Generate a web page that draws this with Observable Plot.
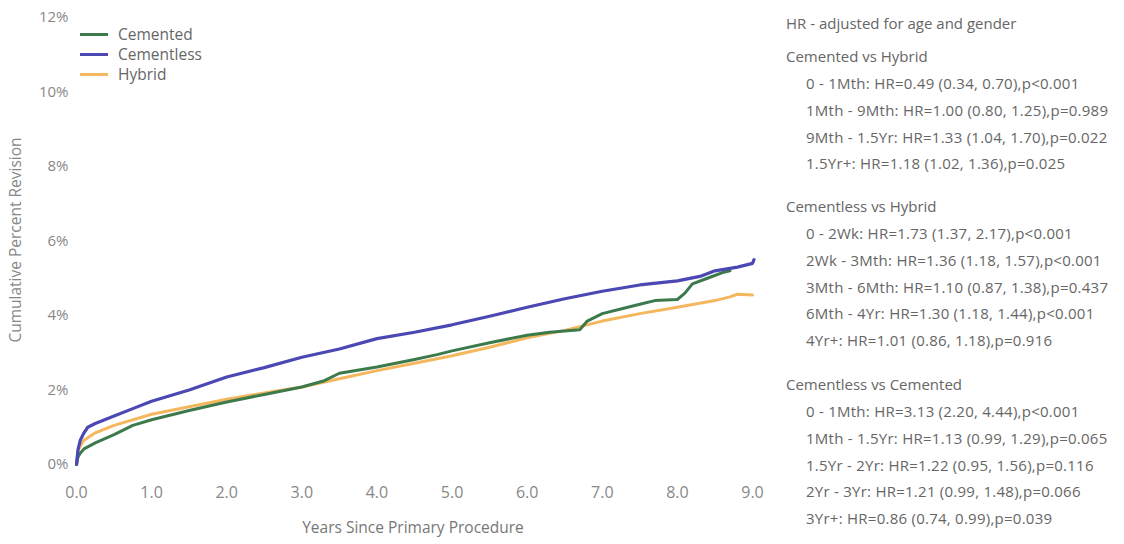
<!DOCTYPE html>
<html><head><meta charset="utf-8">
<script src="https://cdn.jsdelivr.net/npm/d3@7"></script>
<script src="https://cdn.jsdelivr.net/npm/@observablehq/plot@0.6"></script>
<style>
html,body{margin:0;padding:0;background:#fff;}
#wrap{position:relative;width:1124px;height:544px;font-family:"Open Sans",sans-serif;color:#666;}
#chart{position:absolute;left:0;top:0;}
.leg{position:absolute;left:80px;top:24px;font-size:15.5px;color:#666;}
.leg div{height:20px;line-height:20px;display:flex;align-items:center;}
.leg span.sw{display:inline-block;width:28px;height:3px;margin-right:10px;}
.ylab{position:absolute;left:15px;top:240px;transform:translate(-50%,-50%) rotate(-90deg);font-size:15.5px;white-space:nowrap;color:#888;}
.xlab{position:absolute;left:413px;top:527px;transform:translate(-50%,-50%);font-size:15.5px;white-space:nowrap;color:#777;}
#hr{position:absolute;left:786px;top:0;font-size:15px;color:#666;}
#hr div{position:absolute;white-space:nowrap;transform:translateY(-50%);}
#hr div.row{letter-spacing:0.25px;}
</style></head>
<body><div id="wrap"><div id="chart"></div></div>
<script>
const seriesNames = ["Cemented", "Cementless", "Hybrid"];
const seriesColors = ["#3c7a4c", "#4b48b4", "#f5b75e"];

const cementedYears = [0,0.02,0.05,0.1,0.25,0.5,0.75,1.0,1.5,2.0,2.5,3.0,3.3,3.5,4.0,4.5,4.8,5.0,5.5,6.0,6.3,6.7,6.8,7.0,7.3,7.5,7.7,8.0,8.1,8.2,8.4,8.6,8.7];
const cementedPct   = [0,0.2,0.3,0.42,0.58,0.8,1.05,1.2,1.45,1.68,1.88,2.08,2.25,2.45,2.62,2.82,2.95,3.05,3.27,3.47,3.55,3.62,3.85,4.05,4.2,4.3,4.4,4.43,4.6,4.85,5.0,5.15,5.2];

const cementlessYears = [0,0.02,0.05,0.1,0.15,0.25,0.5,0.75,1.0,1.5,2.0,2.5,3.0,3.5,4.0,4.5,5.0,5.5,6.0,6.5,7.0,7.5,8.0,8.3,8.5,8.8,9.0,9.02];
const cementlessPct   = [0,0.4,0.65,0.85,1.0,1.1,1.3,1.5,1.7,2.0,2.35,2.6,2.88,3.1,3.38,3.55,3.75,3.98,4.22,4.45,4.65,4.82,4.93,5.05,5.2,5.3,5.4,5.5];

const hybridYears = [0,0.02,0.05,0.1,0.25,0.5,1.0,1.5,2.0,2.5,3.0,3.5,4.0,4.5,5.0,5.5,6.0,6.5,7.0,7.5,8.0,8.5,8.7,8.8,9.0];
const hybridPct   = [0,0.35,0.5,0.65,0.85,1.05,1.35,1.55,1.75,1.92,2.08,2.3,2.52,2.72,2.92,3.15,3.4,3.6,3.85,4.05,4.22,4.4,4.5,4.57,4.55];

const yTicks = [0,2,4,6,8,10,12];
const xTicks = [0,1,2,3,4,5,6,7,8,9];

const hrTitle = "HR - adjusted for age and gender";
const hrGroups = [
  {title: "Cemented vs Hybrid", rows: [
    "0 - 1Mth: HR=0.49 (0.34, 0.70),p<0.001",
    "1Mth - 9Mth: HR=1.00 (0.80, 1.25),p=0.989",
    "9Mth - 1.5Yr: HR=1.33 (1.04, 1.70),p=0.022",
    "1.5Yr+: HR=1.18 (1.02, 1.36),p=0.025"]},
  {title: "Cementless vs Hybrid", rows: [
    "0 - 2Wk: HR=1.73 (1.37, 2.17),p<0.001",
    "2Wk - 3Mth: HR=1.36 (1.18, 1.57),p<0.001",
    "3Mth - 6Mth: HR=1.10 (0.87, 1.38),p=0.437",
    "6Mth - 4Yr: HR=1.30 (1.18, 1.44),p<0.001",
    "4Yr+: HR=1.01 (0.86, 1.18),p=0.916"]},
  {title: "Cementless vs Cemented", rows: [
    "0 - 1Mth: HR=3.13 (2.20, 4.44),p<0.001",
    "1Mth - 1.5Yr: HR=1.13 (0.99, 1.29),p=0.065",
    "1.5Yr - 2Yr: HR=1.22 (0.95, 1.56),p=0.116",
    "2Yr - 3Yr: HR=1.21 (0.99, 1.48),p=0.066",
    "3Yr+: HR=0.86 (0.74, 0.99),p=0.039"]}
];

const data = [];
[[cementedYears, cementedPct], [cementlessYears, cementlessPct], [hybridYears, hybridPct]].forEach(([xs, ys], i) => {
  xs.forEach((x, j) => data.push({series: seriesNames[i], year: x, pct: ys[j]}));
});

const plot = Plot.plot({
  width: 780,
  height: 544,
  marginLeft: 76,
  marginRight: 28,
  marginTop: 17,
  marginBottom: 80,
  style: {fontFamily: "Open Sans, sans-serif", fontSize: "15px", color: "#888", background: "transparent"},
  x: {domain: [0, 9]},
  y: {domain: [0, 12]},
  color: {domain: seriesNames, range: seriesColors},
  marks: [
    Plot.axisX({ticks: xTicks, tickFormat: d => d.toFixed(1), tickSize: 0, tickPadding: 22, label: null, fontSize: 16}),
    Plot.axisY({ticks: yTicks, tickFormat: d => d + "%", tickSize: 0, tickPadding: 8, label: null, fontSize: 15}),
    Plot.line(data.filter(d => d.series === "Hybrid"), {x: "year", y: "pct", stroke: "series", strokeWidth: 3}),
    Plot.line(data.filter(d => d.series === "Cemented"), {x: "year", y: "pct", stroke: "series", strokeWidth: 3}),
    Plot.line(data.filter(d => d.series === "Cementless"), {x: "year", y: "pct", stroke: "series", strokeWidth: 3.2})
  ]
});
document.getElementById("chart").appendChild(plot);

const wrap = document.getElementById("wrap");
const leg = document.createElement("div");
leg.className = "leg";
seriesNames.forEach((n, i) => {
  const r = document.createElement("div");
  r.innerHTML = `<span class="sw" style="background:${seriesColors[i]}"></span>${n}`;
  leg.appendChild(r);
});
wrap.appendChild(leg);

const yl = document.createElement("div"); yl.className = "ylab"; yl.textContent = "Cumulative Percent Revision"; wrap.appendChild(yl);
const xl = document.createElement("div"); xl.className = "xlab"; xl.textContent = "Years Since Primary Procedure"; wrap.appendChild(xl);

const hr = document.createElement("div"); hr.id = "hr";
const groupTops = [56, 206, 384];
const rowGap = 26.8;
function addLine(text, x, y, cls) {
  const d = document.createElement("div");
  d.textContent = text; d.style.left = x + "px"; d.style.top = y + "px";
  if (cls) d.className = cls;
  hr.appendChild(d);
}
addLine(hrTitle, 0, 23);
hrGroups.forEach((g, gi) => {
  addLine(g.title, 0, groupTops[gi]);
  g.rows.forEach((r, ri) => addLine(r, 20, groupTops[gi] + 27 + ri * rowGap, "row"));
});
wrap.appendChild(hr);
</script>
</body></html>
